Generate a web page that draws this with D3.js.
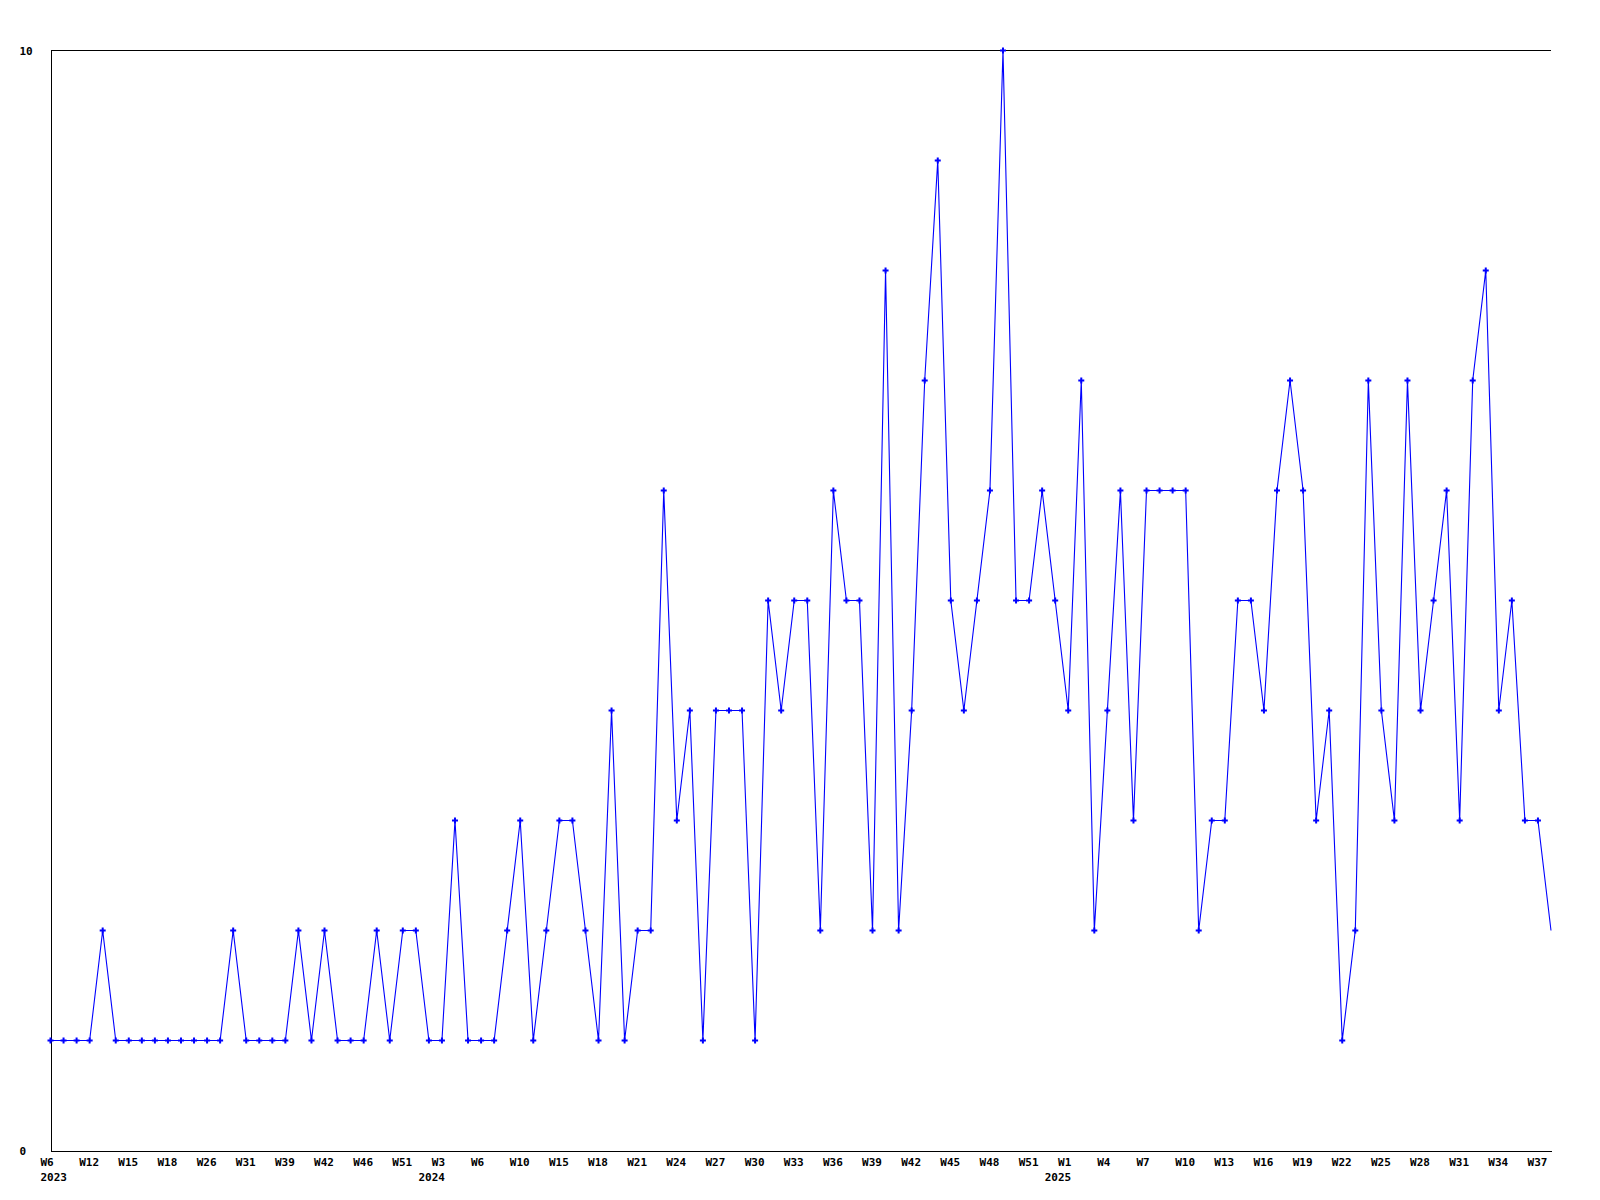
<!DOCTYPE html>
<html>
<head>
<meta charset="utf-8">
<script src="https://cdn.jsdelivr.net/npm/d3@7"></script>
<style>
  body { margin: 0; background: #fff; }
  text { font-family: "DejaVu Sans Mono", monospace; font-weight: bold; font-size: 11px; fill: #000; }
</style>
</head>
<body>
<svg></svg>
<script>
var width = 1600;
var height = 1200;
var plotLeft = 50.5, plotRight = 1551, plotTop = 50.5, plotBottom = 1150.5;

// weekly counts, one per category (2023 W6 ... 2025 W38)
var counts = [
  1, 1, 1, 1, 2, 1, 1, 1, 1, 1,
  1, 1, 1, 1, 2, 1, 1, 1, 1, 2,
  1, 2, 1, 1, 1, 2, 1, 2, 2, 1,
  1, 3, 1, 1, 1, 2, 3, 1, 2, 3,
  3, 2, 1, 4, 1, 2, 2, 6, 3, 4,
  1, 4, 4, 4, 1, 5, 4, 5, 5, 2,
  6, 5, 5, 2, 8, 2, 4, 7, 9, 5,
  4, 5, 6, 10, 5, 5, 6, 5, 4, 7,
  2, 4, 6, 3, 6, 6, 6, 6, 2, 3,
  3, 5, 5, 4, 6, 7, 6, 3, 4, 1,
  2, 7, 4, 3, 7, 4, 5, 6, 3, 7,
  8, 4, 5, 3, 3, 2
];

// every third category gets a label
var weekLabels = [
  'W6', 'W12', 'W15', 'W18', 'W26', 'W31', 'W39', 'W42', 'W46', 'W51',
  'W3', 'W6', 'W10', 'W15', 'W18', 'W21', 'W24', 'W27', 'W30', 'W33',
  'W36', 'W39', 'W42', 'W45', 'W48', 'W51',
  'W1', 'W4', 'W7', 'W10', 'W13', 'W16', 'W19', 'W22', 'W25', 'W28',
  'W31', 'W34', 'W37'
];
var yearLabels = ['2023', '2024', '2025'];
var yearIndex = [0, 30, 78];

var yTicks = [0, 10];

var svg = d3.select('svg')
    .attr('width', width)
    .attr('height', height);

var xScale = d3.scaleLinear()
    .domain([0, counts.length - 1])
    .range([plotLeft, plotRight]);

var yScale = d3.scaleLinear()
    .domain([0, 10])
    .range([plotBottom, plotTop]);

// frame: top line
svg.append('line')
    .attr('x1', plotLeft).attr('x2', plotRight)
    .attr('y1', plotTop).attr('y2', plotTop)
    .attr('stroke', '#000')
    .attr('shape-rendering', 'crispEdges');

var xAxis = d3.axisBottom(xScale)
    .tickValues(d3.range(0, counts.length, 3))
    .tickFormat((d, i) => weekLabels[i])
    .tickSize(0)
    .tickSizeOuter(0)
    .tickPadding(8);

var gx = svg.append('g')
    .attr('transform', 'translate(0,' + plotBottom + ')')
    .call(xAxis);
gx.select('.domain').attr('stroke', '#000').attr('shape-rendering', 'crispEdges');
gx.selectAll('text')
    .attr('font-size', null).attr('font-family', null)
    .attr('dx', function(d, i){ return weekLabels[i].length < 3 ? -4 : -1; });

var yAxis = d3.axisLeft(yScale)
    .tickValues(yTicks)
    .tickSize(0)
    .tickSizeOuter(0);

var gy = svg.append('g')
    .attr('transform', 'translate(' + plotLeft + ',0)')
    .call(yAxis);
gy.select('.domain').attr('stroke', '#000').attr('shape-rendering', 'crispEdges');
gy.selectAll('text')
    .attr('font-size', null).attr('font-family', null)
    .attr('x', -31)
    .attr('text-anchor', 'start');

// years under the first week of each year
svg.append('g')
    .selectAll('text')
    .data(yearLabels)
    .enter()
    .append('text')
        .attr('x', (d, i) => i === 0 ? xScale(yearIndex[i]) - 10 : xScale(yearIndex[i]) + 3)
        .attr('y', 1181)
        .attr('text-anchor', (d, i) => i === 0 ? 'start' : 'end')
        .text(d => d);

var line = d3.line()
    .x((d, i) => xScale(i))
    .y(d => yScale(d));

svg.append('path')
    .datum(counts)
    .attr('d', line)
    .attr('fill', 'none')
    .attr('stroke', '#0000ff')
    .attr('stroke-width', 1.1);

svg.append('g')
    .selectAll('path')
    .data(counts.slice(0, -1))
    .enter()
    .append('path')
        .attr('d', d3.symbol().type(d3.symbolCross).size(20))
        .attr('transform', (d, i) => 'translate(' + xScale(i) + ',' + yScale(d) + ')')
        .attr('fill', '#0000ff');
</script>
</body>
</html>
